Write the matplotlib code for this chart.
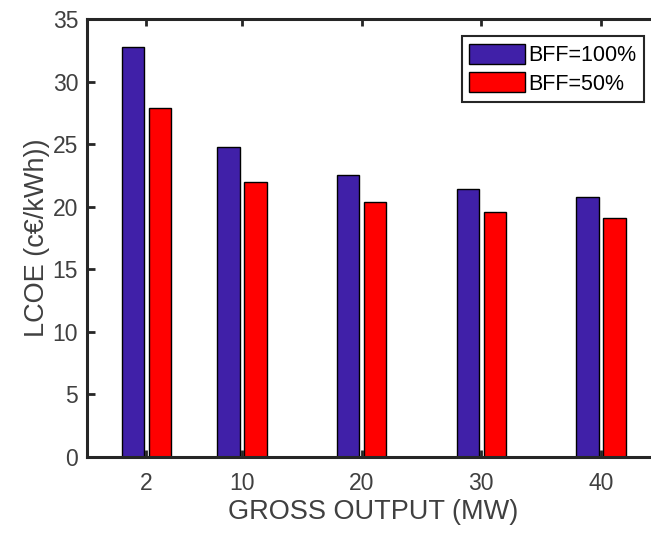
import numpy as np
import matplotlib
matplotlib.use('Agg')
import matplotlib.pyplot as plt

# LCOE for each plant size, two biomass fuel fractions
gross_output = [2, 10, 20, 30, 40]
lcoe_bff100 = [32.75, 24.78, 22.55, 21.45, 20.8]
lcoe_bff50 = [27.9, 21.98, 20.37, 19.57, 19.08]
series_labels = ['BFF=100%', 'BFF=50%']
yticks = [0, 5, 10, 15, 20, 25, 30, 35]

plt.rcParams['font.family'] = ['Liberation Sans', 'DejaVu Sans']

fig = plt.figure(figsize=(6.51, 5.34), dpi=100)
ax = fig.add_axes([0.1329, 0.1442, 0.882, 0.8202])

x = np.array(gross_output, dtype=float)
offset = 1.13
width = 1.88
ax.bar(x - offset, lcoe_bff100, width, color='#4020a8', edgecolor='black',
       linewidth=1.0, label=series_labels[0], zorder=2)
ax.bar(x + offset, lcoe_bff50, width, color='#ff0000', edgecolor='black',
       linewidth=1.0, label=series_labels[1], zorder=2)

ax.set_xlim(-3, 45)
ax.set_ylim(0, 35)
ax.set_xticks(gross_output)
ax.set_yticks(yticks)

spine_color = '#262626'
for s in ax.spines.values():
    s.set_linewidth(2.2)
    s.set_color(spine_color)
    s.set_zorder(3)

ax.tick_params(axis='both', direction='in', colors=spine_color, width=2,
               labelsize=16.5, labelcolor='#404040')
ax.tick_params(axis='x', length=5, top=True, pad=11)
ax.tick_params(axis='y', length=6, right=True, pad=6)

ax.set_xlabel('GROSS OUTPUT (MW)', fontsize=19.5, color='#404040', labelpad=3)
ax.set_ylabel('LCOE (c€/kWh))', fontsize=19.5, color='#404040', labelpad=2)

leg = ax.legend(loc='upper right', bbox_to_anchor=(644 / 651, 1 - 36 / 534),
                bbox_transform=fig.transFigure, fontsize=15.5, fancybox=False,
                framealpha=1, edgecolor=spine_color, borderpad=0.35,
                handlelength=2.6, handleheight=1.05, handletextpad=0.15,
                labelspacing=0.3, borderaxespad=0)
leg.get_frame().set_linewidth(1.5)

fig.savefig('out.png', dpi=100)
